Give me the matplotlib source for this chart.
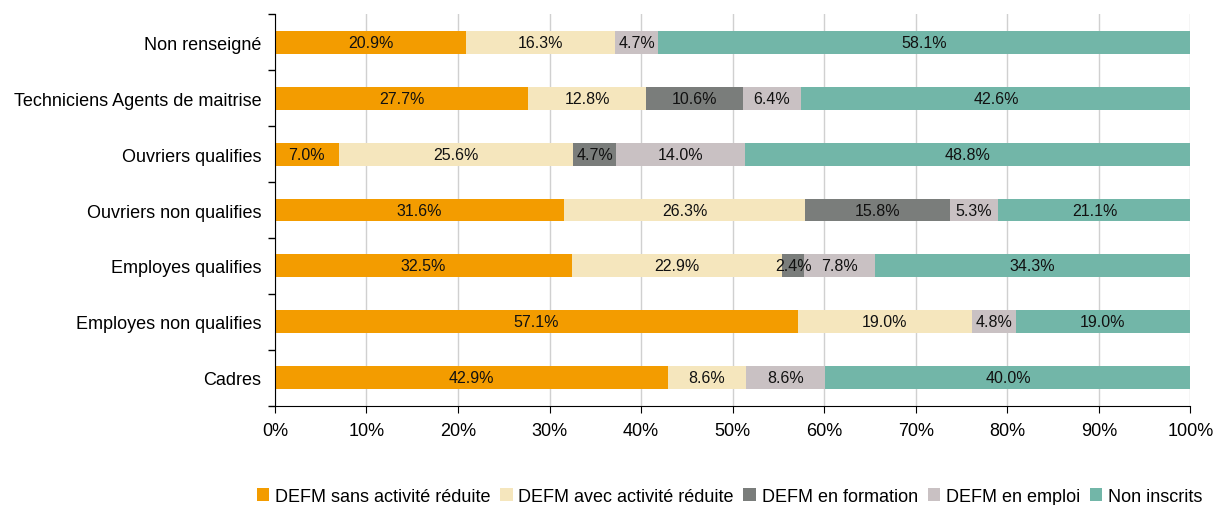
import matplotlib
matplotlib.use("Agg")
import matplotlib.pyplot as plt
import numpy as np
from matplotlib.ticker import FixedLocator, PercentFormatter

plt.rcParams["font.family"] = ["Liberation Sans", "DejaVu Sans"]

categories = [
    "Non renseigné",
    "Techniciens Agents de maitrise",
    "Ouvriers qualifies",
    "Ouvriers non qualifies",
    "Employes qualifies",
    "Employes non qualifies",
    "Cadres",
]
series_names = [
    "DEFM sans activité réduite",
    "DEFM avec activité réduite",
    "DEFM en formation",
    "DEFM en emploi",
    "Non inscrits",
]
sans_activite = [20.9, 27.7, 7.0, 31.6, 32.5, 57.1, 42.9]
avec_activite = [16.3, 12.8, 25.6, 26.3, 22.9, 19.0, 8.6]
en_formation = [0.0, 10.6, 4.7, 15.8, 2.4, 0.0, 0.0]
en_emploi = [4.7, 6.4, 14.0, 5.3, 7.8, 4.8, 8.6]
non_inscrits = [58.1, 42.6, 48.8, 21.1, 34.3, 19.0, 40.0]
colors = ["#F39C00", "#F5E6BD", "#7A7D7B", "#C9C1C3", "#72B6A8"]

series = [sans_activite, avec_activite, en_formation, en_emploi, non_inscrits]

fig = plt.figure(figsize=(12.16, 5.06), dpi=100)
ax = fig.add_axes([0.226, 0.196, 0.753, 0.774])

y = np.arange(len(categories))[::-1]
left = np.zeros(len(categories))
for name, values, color in zip(series_names, series, colors):
    values = np.array(values)
    bars = ax.barh(y, values, left=left, height=0.41, color=color, label=name, zorder=2)
    for bar, value in zip(bars, values):
        if value > 0:
            ax.text(bar.get_x() + bar.get_width() / 2, bar.get_y() + bar.get_height() / 2,
                    f"{value:.1f}%", ha="center", va="center", fontsize=11.5, color="#111111")
    left += values

ax.set_xlim(0, 100)
ax.set_ylim(-0.5, len(categories) - 0.5)
ax.set_xticks(np.arange(0, 101, 10))
ax.xaxis.set_major_formatter(PercentFormatter(decimals=0))
ax.set_yticks(y)
ax.set_yticklabels(categories)
ax.yaxis.set_minor_locator(FixedLocator(np.arange(-0.5, len(categories), 1)))
ax.tick_params(axis="y", which="major", length=0, pad=9.5, labelsize=13)
ax.tick_params(axis="y", which="minor", length=5, direction="out", width=1)
ax.tick_params(axis="x", length=5, direction="out", labelsize=13, pad=7)
ax.grid(axis="x", color="#D0D0D0", linewidth=1, zorder=0)
ax.set_axisbelow(True)
for side in ["top", "right"]:
    ax.spines[side].set_visible(False)
ax.spines["left"].set_color("black")
ax.spines["bottom"].set_color("black")

# the original legend runs off the right edge; tighten it so every label stays whole
handles, labels = ax.get_legend_handles_labels()
fig.legend(handles, labels, loc="lower left", bbox_to_anchor=(0.205, -0.014), ncol=5,
           frameon=False, fontsize=13, handlelength=0.7, handleheight=0.7,
           handletextpad=0.3, columnspacing=0.55, borderaxespad=0)

fig.savefig("out.png", dpi=100)
